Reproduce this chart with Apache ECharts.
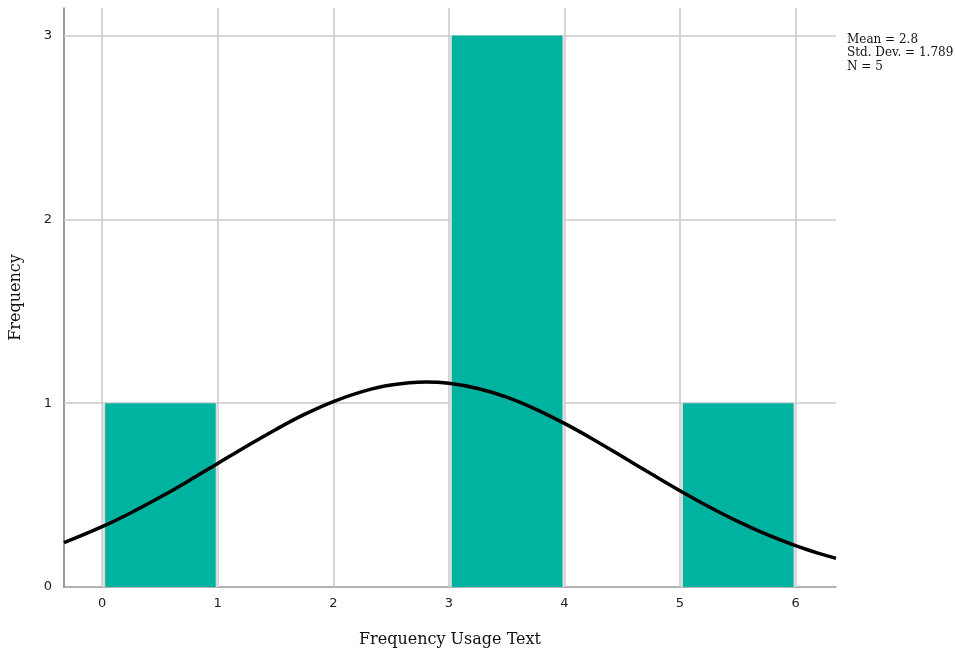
<!DOCTYPE html>
<html>
<head>
<meta charset="utf-8">
<script src="https://cdn.jsdelivr.net/npm/echarts@6/dist/echarts.min.js"></script>
<style>html,body{margin:0;padding:0;background:#fff;}#chart{width:955px;height:654px;}</style>
</head>
<body>
<div id="chart"></div>
<script>
// Histogram bins: [start, end, frequency]
const binStarts = [0, 3, 5];
const binEnds = [1, 4, 6];
const frequencies = [1, 3, 1];
// Normal curve
const curveX = [-0.33, 0, 0.25, 0.5, 0.75, 1, 1.25, 1.5, 1.75, 2, 2.25, 2.5, 2.8, 3, 3.25, 3.5, 3.75, 4, 4.25, 4.5, 4.75, 5, 5.25, 5.5, 5.75, 6, 6.2, 6.35];
const curveY = [0.241, 0.328, 0.404, 0.488, 0.578, 0.672, 0.766, 0.856, 0.939, 1.009, 1.063, 1.099, 1.115, 1.108, 1.080, 1.033, 0.968, 0.890, 0.803, 0.710, 0.616, 0.524, 0.437, 0.357, 0.286, 0.225, 0.183, 0.156];
// Axis ticks
const xTicks = [0, 1, 2, 3, 4, 5, 6];
const yTicks = [0, 1, 2, 3];
const xRange = [-0.33, 6.35];
const yRange = [0, 3.15];
const statsLines = ['Mean = 2.8', 'Std. Dev. = 1.789', 'N = 5'];

const chart = echarts.init(document.getElementById('chart'), null, {renderer: 'canvas'});
const gridColor = '#c8c8c8';
const fmt = v => (Math.abs(v - Math.round(v)) < 1e-9 ? String(Math.round(v)) : '');

const option = {
  backgroundColor: '#fff',
  animation: false,
  grid: {left: 63, right: 119, top: 8, bottom: 67},
  xAxis: {
    type: 'value', min: xRange[0], max: xRange[1],
    name: 'Frequency Usage Text', nameLocation: 'middle', nameGap: 45,
    nameTextStyle: {fontFamily: 'DejaVu Serif', fontSize: 16, color: '#111'},
    axisLine: {show: true, onZero: false, lineStyle: {color: '#999', width: 1.5}},
    axisTick: {show: false},
    splitLine: {show: false},
    axisLabel: {customValues: xTicks, formatter: fmt, fontFamily: 'DejaVu Sans', fontSize: 13, color: '#222', margin: 10}
  },
  yAxis: {
    type: 'value', min: yRange[0], max: yRange[1],
    name: 'Frequency', nameLocation: 'middle', nameGap: 40,
    nameTextStyle: {fontFamily: 'DejaVu Serif', fontSize: 16, color: '#111'},
    axisLine: {show: true, onZero: false, lineStyle: {color: '#777', width: 1.5}},
    axisTick: {show: false},
    splitLine: {show: false},
    axisLabel: {customValues: yTicks, formatter: fmt, fontFamily: 'DejaVu Sans', fontSize: 13, color: '#222', margin: 12}
  },
  graphic: [{
    type: 'text', left: 847, top: 33,
    style: {text: statsLines.join('\n'), font: '12px "DejaVu Serif"', fill: '#111', lineHeight: 13.5}
  }],
  series: [
    {
      type: 'line', data: [], z: 1, silent: true,
      markLine: {
        z: 1,
        silent: true, symbol: 'none', animation: false,
        label: {show: false},
        lineStyle: {color: gridColor, type: 'solid', width: 1.5},
        data: xTicks.map(v => ({xAxis: v})).concat(yTicks.filter(v => v > 0).map(v => ({yAxis: v})))
      }
    },
    {
      type: 'custom', z: 6,
      data: binStarts.map((s, i) => [s, binEnds[i], frequencies[i]]),
      renderItem: function (params, api) {
        const p0 = api.coord([api.value(0), api.value(2)]);
        const p1 = api.coord([api.value(1), 0]);
        return {
          type: 'group',
          children: [
            {type: 'rect', shape: {x: p0[0] + 1, y: p0[1], width: p1[0] - p0[0] - 1, height: p1[1] - p0[1]},
             style: {fill: '#dcdcdc'}},
            {type: 'rect', shape: {x: p0[0] + 3, y: p0[1], width: p1[0] - p0[0] - 5, height: p1[1] - p0[1]},
             style: {fill: '#00b3a0'}}
          ]
        };
      }
    },
    {
      type: 'line', z: 8, smooth: 0.4, showSymbol: false, silent: true,
      data: curveX.map((x, i) => [x, curveY[i]]),
      lineStyle: {color: '#000', width: 3.5}
    }
  ]
};
chart.setOption(option);
</script>
</body>
</html>
